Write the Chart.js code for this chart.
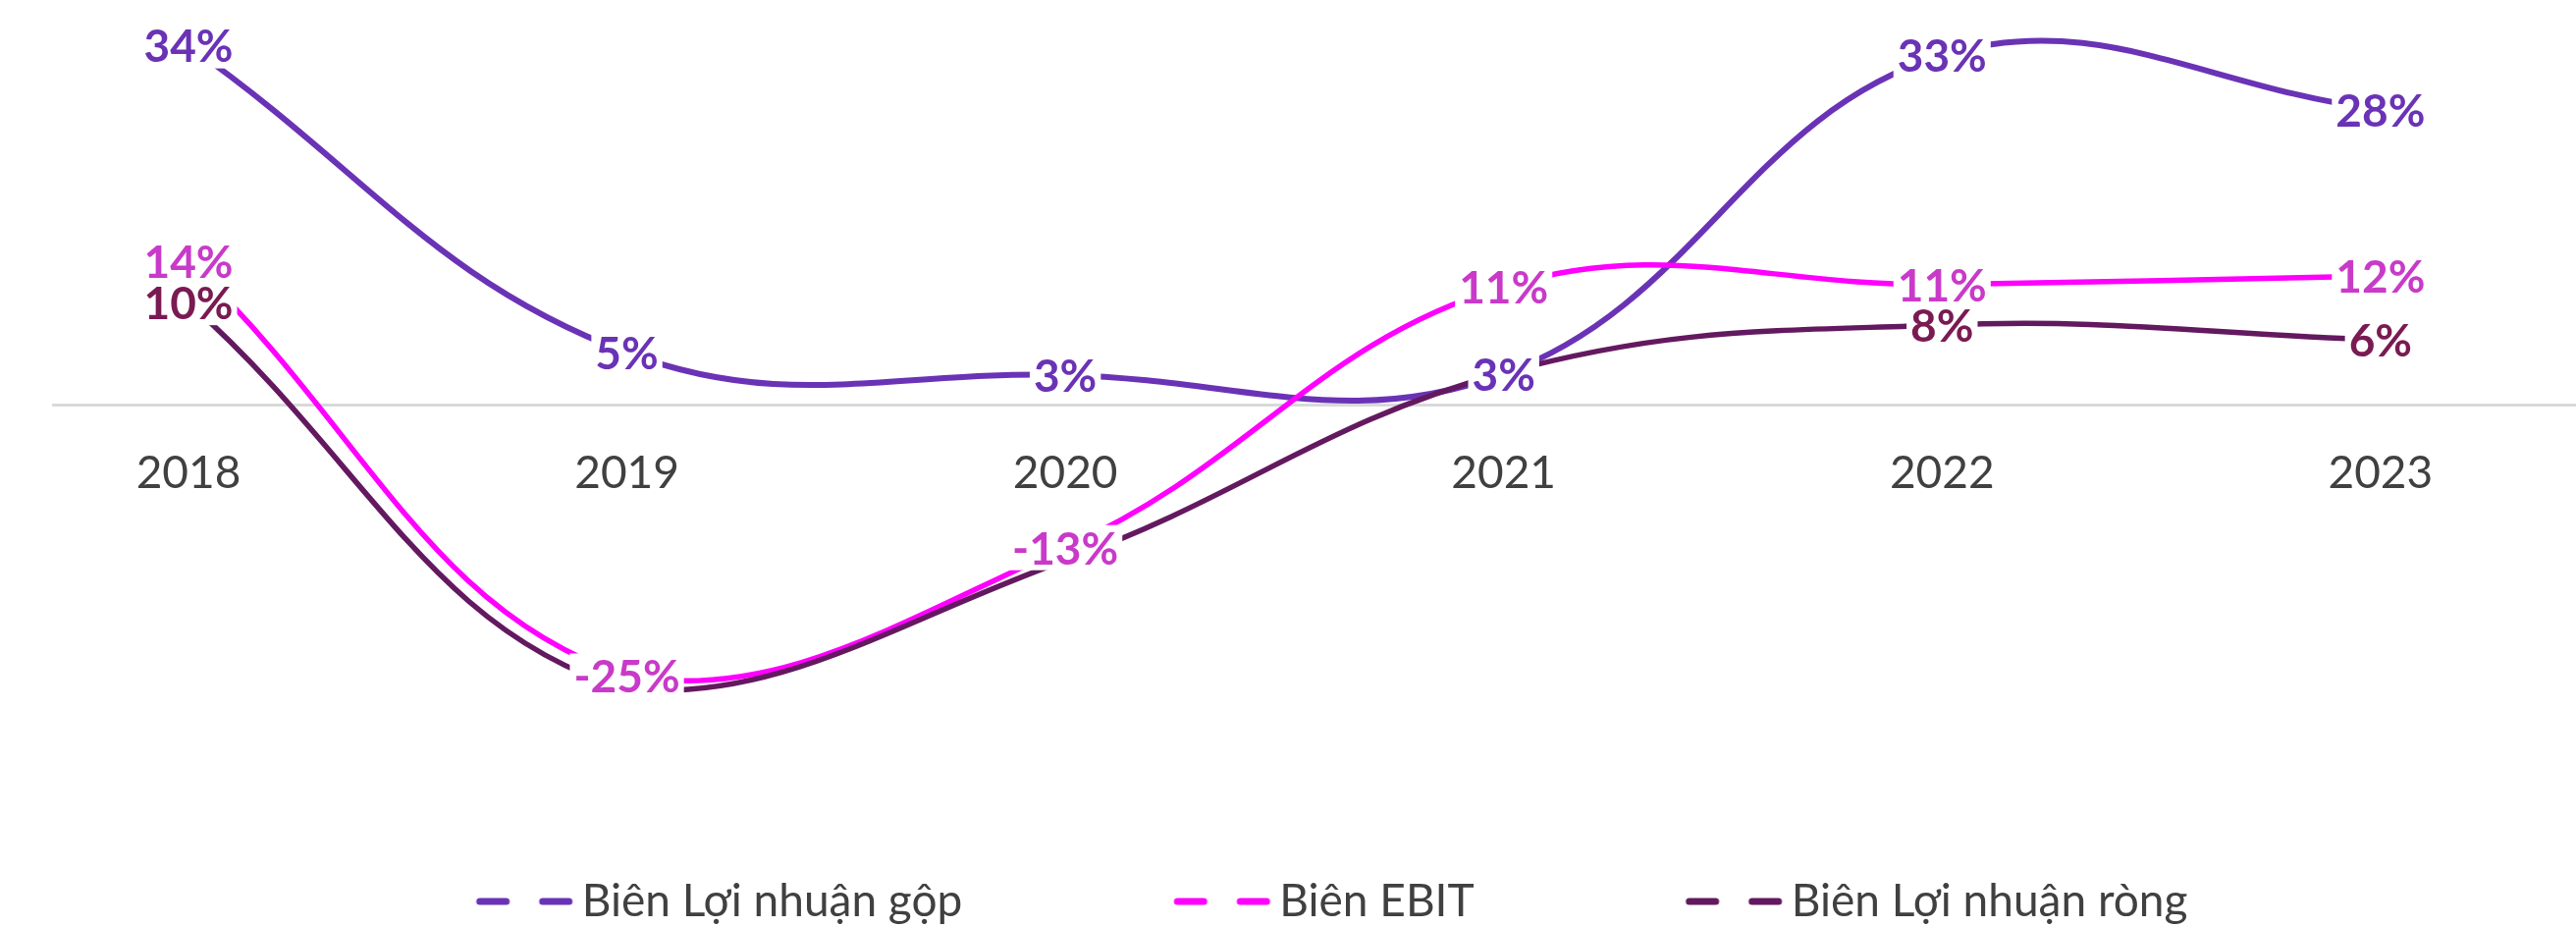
<!DOCTYPE html>
<html><head><meta charset="utf-8">
<script src="https://cdn.jsdelivr.net/npm/chart.js@4.4.1/dist/chart.umd.min.js"></script>
<style>html,body{margin:0;padding:0;background:#fff;overflow:hidden}#wrap{position:relative;width:2624px;height:944px}</style>
</head><body><div id="wrap"><canvas id="c"></canvas></div>
<script>
const years = ['2018', '2019', '2020', '2021', '2022', '2023'];
const grossMargin = [33.7, 4.9, 2.8, 2.9, 32.8, 27.7];
const ebitMargin = [13.5, -25.45, -13.4, 11.1, 11.3, 12.1];
const netMargin = [9.6, -26.7, -14.6, 3.0, 7.5, 6.1];
const seriesNames = ['Biên Lợi nhuận gộp', 'Biên EBIT', 'Biên Lợi nhuận ròng'];
const netLabelShown = [true, false, false, false, true, true];

const FONT = 'Lato, "Liberation Sans", sans-serif';
const lineColors = ['#6A33B6', '#FF00FF', '#63195F'];
const labelColors = ['#6A33B6', '#C93AC9', '#7A1A52'];

const LEG_FONT = 46;
const LEG_PAD = 180;
const BOXW = 300 - LEG_PAD, IMGW = BOXW + 40;
function legendMarker(color) {
  const c = document.createElement('canvas');
  c.width = IMGW; c.height = 20;
  const g = c.getContext('2d');
  const s = BOXW / 2 + IMGW / 2 + LEG_FONT / 2 - 108;
  g.strokeStyle = color; g.lineWidth = 7; g.lineCap = 'round';
  g.beginPath();
  g.moveTo(s + 4, 10); g.lineTo(s + 31, 10);
  g.moveTo(s + 68, 10); g.lineTo(s + 95, 10);
  g.stroke();
  return c;
}
const markers = lineColors.map(legendMarker);

const pts = arr => arr.map((v, i) => ({ x: i, y: v }));

const valueLabels = {
  id: 'valueLabels',
  afterDatasetsDraw(chart) {
    const ctx = chart.ctx;
    ctx.save();
    ctx.font = 'bold 46px ' + FONT;
    ctx.textAlign = 'center';
    ctx.textBaseline = 'middle';
    const items = [];
    chart.data.datasets.forEach((ds, di) => {
      const meta = chart.getDatasetMeta(di);
      meta.data.forEach((p, i) => {
        if (ds.labelShown && !ds.labelShown[i]) return;
        items.push({ x: p.x, y: p.y, t: Math.round(ds.data[i].y) + '%', c: ds.labelColor });
      });
    });
    items.forEach(it => {
      const w = ctx.measureText(it.t).width + 8;
      ctx.fillStyle = '#fff';
      ctx.fillRect(it.x - w / 2, it.y - 23, w, 46);
    });
    items.forEach(it => {
      ctx.fillStyle = it.c;
      ctx.fillText(it.t, it.x, it.y + 2);
    });
    ctx.restore();
  }
};

new Chart(document.getElementById('c'), {
  type: 'line',
  data: {
    datasets: [
      { label: seriesNames[0], data: pts(grossMargin), borderColor: lineColors[0], borderWidth: 6, labelColor: labelColors[0], order: 2 },
      { label: seriesNames[1], data: pts(ebitMargin), borderColor: lineColors[1], borderWidth: 5.5, labelColor: labelColors[1], order: 1 },
      { label: seriesNames[2], data: pts(netMargin), borderColor: lineColors[2], borderWidth: 5.5, labelColor: labelColors[2], labelShown: netLabelShown, order: 0 }
    ]
  },
  options: {
    responsive: true, maintainAspectRatio: false, animation: false, devicePixelRatio: 1,
    layout: { padding: { left: 54, right: 0, top: 0, bottom: -7 } },
    elements: { point: { radius: 0, hoverRadius: 0 }, line: { tension: 0.4, fill: false, borderCapStyle: 'round' } },
    scales: {
      x: {
        type: 'linear', min: -0.309, max: 5.446,
        position: { y: 0 },
        afterBuildTicks: s => { s.ticks = years.map((_, i) => ({ value: i })); },
        grid: { display: false, drawTicks: false },
        border: { display: true, color: '#D9D9D9', width: 3 },
        ticks: { callback: v => years[v], font: { family: FONT, size: 46 }, color: '#404040', padding: 42, maxRotation: 0, autoSkip: false }
      },
      y: { display: false, min: -27.9, max: 38 }
    },
    plugins: {
      tooltip: { enabled: false },
      legend: {
        position: 'bottom',
        labels: {
          usePointStyle: true, pointStyleWidth: BOXW, padding: LEG_PAD,
          font: { family: FONT, size: LEG_FONT }, color: '#404040',
          generateLabels: () => seriesNames.map((t, i) => ({ text: t, pointStyle: markers[i], datasetIndex: i, lineWidth: 0, fillStyle: lineColors[i], strokeStyle: lineColors[i], hidden: false, fontColor: '#404040' }))
        }
      }
    }
  },
  plugins: [valueLabels]
});
</script></body></html>
